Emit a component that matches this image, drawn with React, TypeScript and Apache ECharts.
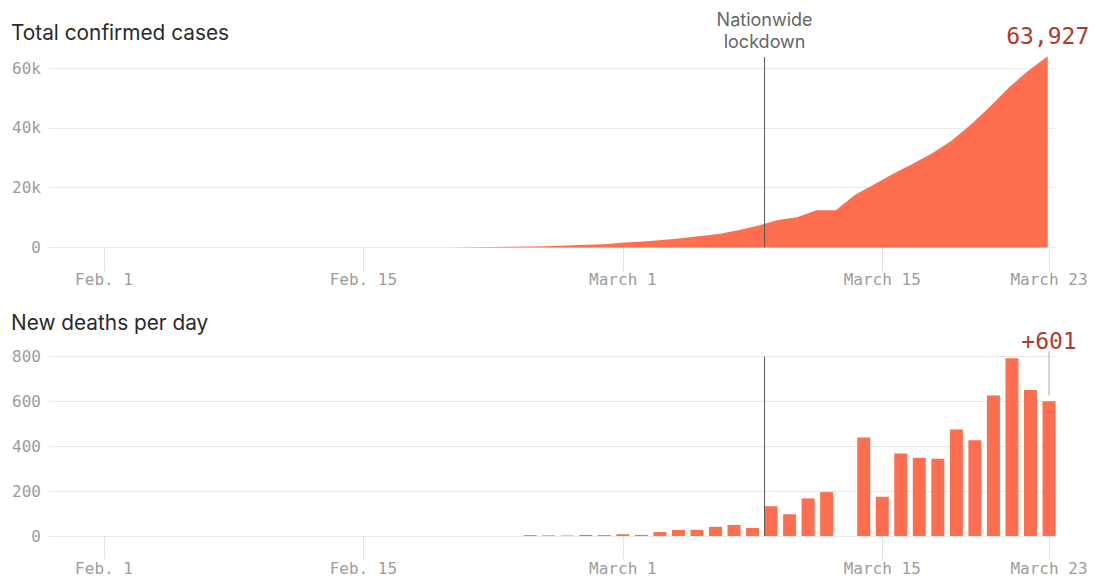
import React, { useEffect, useRef } from "react";
import * as echarts from "echarts";

// Day index 0 = Feb. 1, 2020 ... 51 = March 23, 2020
const tickDays = [0, 14, 28, 42, 51];
const tickLabels = ["Feb. 1", "Feb. 15", "March 1", "March 15", "March 23"];

const totalCases = [
  2, 2, 2, 2, 2, 2, 3, 3, 3, 3, 3, 3, 3, 3, 3, 3, 3, 3, 3, 3,
  20, 62, 155, 229, 322, 453, 655, 888, 1128, 1694, 2036, 2502, 3089, 3858, 4636, 5883,
  7375, 9172, 10149, 12462, 12462, 17660, 21157, 24747, 27980, 31506, 35713, 41035,
  47021, 53578, 59138, 63927,
];

const newDeaths = [
  0, 0, 0, 0, 0, 0, 0, 0, 0, 0, 0, 0, 0, 0, 0, 0, 0, 0, 0, 0,
  0, 0, 0, 4, 3, 2, 5, 4, 8, 5, 18, 27, 28, 41, 49, 36,
  133, 97, 168, 196, 0, 439, 175, 368, 349, 345, 475, 427, 627, 793, 651, 601,
];

const caseTicks = [0, 20000, 40000, 60000];
const deathTicks = [0, 200, 400, 600, 800];
const lockdownDay = 35.65;
const lockdownLabel = ["Nationwide", "lockdown"];

const CORAL = "#ff6f4f";
const MONO = '"DejaVu Sans Mono", "Liberation Mono", monospace';
const SANS = 'Inter, Roboto, "Noto Sans", sans-serif';

export default function App() {
  const ref = useRef<HTMLDivElement>(null);

  useEffect(() => {
    document.body.style.margin = "0";
    const chart = echarts.init(ref.current!, null, { renderer: "svg" });

    const GL = 49;
    const GR = 43;
    const k = 945 / 51;
    const xMin = -(104 - GL) / k;
    const xMax = 51 + (1055 - 1049) / k;
    const ka = 19.27;
    const xaMin = (GL - 65) / ka;
    const xaMax = (1055 - 65) / ka;

    const lastIdx = totalCases.length - 1;

    const labelFmt = (v: number) => {
      const i = tickDays.indexOf(v);
      return i >= 0 ? tickLabels[i] : "";
    };

    const makeX = (gridIndex: number, margin: number, tickLen: number) => ({
      type: "value",
      gridIndex,
      min: xMin,
      max: xMax,
      axisLine: { show: false },
      splitLine: { show: false },
      axisTick: {
        show: true,
        customValues: tickDays,
        length: tickLen,
        lineStyle: { color: "#e2e2e2", width: 1 },
      },
      axisLabel: {
        customValues: tickDays,
        formatter: labelFmt,
        margin,
        color: "#9c9c9c",
        fontFamily: MONO,
        fontSize: 16,
      },
    });

    const yCommon = {
      type: "value",
      min: 0,
      axisLine: { show: false },
      axisTick: { show: false },
      splitLine: { show: true, lineStyle: { color: "#e8e8e8", width: 1 } },
    };

    chart.setOption({
      animation: false,
      grid: [
        { left: GL, right: GR, top: 68, height: 179.5 },
        { left: GL, right: GR, top: 356.7, height: 180 },
      ],
      xAxis: [
        makeX(0, 24, 24),
        { type: "value", gridIndex: 0, min: xaMin, max: xaMax, show: false },
        makeX(1, 24, 23),
      ],
      yAxis: [
        {
          ...yCommon,
          gridIndex: 0,
          max: caseTicks[caseTicks.length - 1],
          interval: caseTicks[1] - caseTicks[0],
          axisLabel: {
            margin: 8,
            color: "#9c9c9c",
            fontFamily: MONO,
            fontSize: 16,
            formatter: (v: number) => (v === 0 ? "0" : v / 1000 + "k"),
          },
        },
        {
          ...yCommon,
          gridIndex: 1,
          max: deathTicks[deathTicks.length - 1],
          interval: deathTicks[1] - deathTicks[0],
          axisLabel: {
            margin: 8,
            color: "#9c9c9c",
            fontFamily: MONO,
            fontSize: 16,
          },
        },
      ],
      series: [
        {
          type: "line",
          xAxisIndex: 1,
          yAxisIndex: 0,
          data: totalCases.map((v, i) => [i, v]),
          showSymbol: false,
          clip: false,
          lineStyle: { width: 0 },
          areaStyle: { color: CORAL, opacity: 1 },
          silent: true,
        },
        {
          type: "bar",
          xAxisIndex: 2,
          yAxisIndex: 1,
          data: newDeaths.map((v, i) => [i, v]),
          barWidth: 13,
          itemStyle: { color: CORAL },
          silent: true,
        },
      ],
    });

    const xLock = chart.convertToPixel({ xAxisIndex: 0 }, lockdownDay) as number;
    const y0Top = chart.convertToPixel({ yAxisIndex: 0 }, 0) as number;
    const y0Bot = chart.convertToPixel({ yAxisIndex: 1 }, 0) as number;
    const yMaxBot = chart.convertToPixel({ yAxisIndex: 1 }, deathTicks[deathTicks.length - 1]) as number;
    const pCase = chart.convertToPixel({ xAxisIndex: 1, yAxisIndex: 0 }, [lastIdx, totalCases[lastIdx]]) as number[];
    const pDeath = chart.convertToPixel({ xAxisIndex: 2, yAxisIndex: 1 }, [lastIdx, newDeaths[lastIdx]]) as number[];

    chart.setOption({
      graphic: [
        {
          type: "line",
          shape: { x1: xLock, y1: 57, x2: xLock, y2: y0Top },
          style: { stroke: "#555", lineWidth: 1 },
          z: 10,
        },
        {
          type: "line",
          shape: { x1: xLock, y1: yMaxBot, x2: xLock, y2: y0Bot },
          style: { stroke: "#555", lineWidth: 1 },
          z: 10,
        },
        {
          type: "text",
          x: xLock,
          y: 19,
          style: { text: lockdownLabel[0], fontSize: 18, fontFamily: SANS, fill: "#666", textAlign: "center", textVerticalAlign: "middle" },
        },
        {
          type: "text",
          x: xLock,
          y: 41,
          style: { text: lockdownLabel[1], fontSize: 18, fontFamily: SANS, fill: "#666", textAlign: "center", textVerticalAlign: "middle" },
        },
        {
          type: "text",
          x: 11,
          y: 32,
          style: { text: "Total confirmed cases", fontSize: 20.8, fontFamily: SANS, fill: "#2a2a2a", textAlign: "left", textVerticalAlign: "middle" },
        },
        {
          type: "text",
          x: 11,
          y: 322,
          style: { text: "New deaths per day", fontSize: 20.8, fontFamily: SANS, fill: "#2a2a2a", textAlign: "left", textVerticalAlign: "middle" },
        },
        {
          type: "text",
          x: pCase[0],
          y: pCase[1] - 20,
          style: { text: totalCases[lastIdx].toLocaleString("en-US"), fontSize: 23, fontFamily: MONO, fill: "#b23a2c", textAlign: "center", textVerticalAlign: "middle" },
        },
        {
          type: "line",
          shape: { x1: pDeath[0], y1: pDeath[1] - 50, x2: pDeath[0], y2: pDeath[1] - 6 },
          style: { stroke: "#aaa", lineWidth: 1 },
        },
        {
          type: "text",
          x: pDeath[0],
          y: pDeath[1] - 60,
          style: { text: "+" + newDeaths[lastIdx], fontSize: 23, fontFamily: MONO, fill: "#b23a2c", textAlign: "center", textVerticalAlign: "middle" },
        },
      ],
    });

    return () => chart.dispose();
  }, []);

  return <div ref={ref} style={{ width: 1098, height: 576 }} />;
}
